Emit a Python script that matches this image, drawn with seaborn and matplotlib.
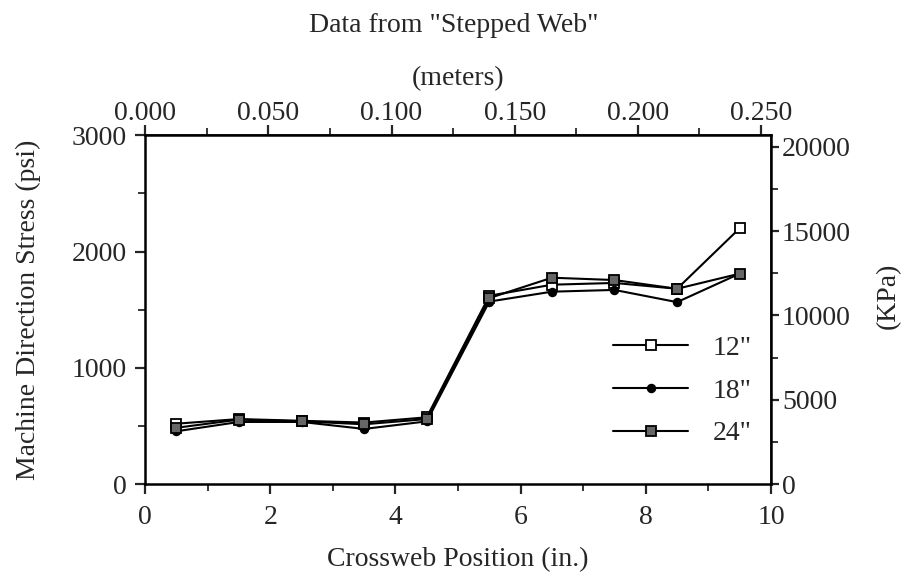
import numpy as np
import pandas as pd
import matplotlib
matplotlib.use("Agg")
import matplotlib.pyplot as plt
import seaborn as sns
from matplotlib.ticker import MultipleLocator

# ---- data ----
positions = [0.5, 1.5, 2.5, 3.5, 4.5, 5.5, 6.5, 7.5, 8.5, 9.5]
stress_12 = [520, 560, 545, 530, 575, 1620, 1715, 1730, 1680, 2200]
stress_18 = [455, 535, 535, 475, 540, 1570, 1655, 1670, 1565, 1810]
stress_24 = [485, 555, 540, 515, 560, 1600, 1775, 1755, 1680, 1810]
series_labels = ['12"', '18"', '24"']
top_ticks = [0.000, 0.050, 0.100, 0.150, 0.200, 0.250]
right_ticks = [0, 5000, 10000, 15000, 20000]

PSI_TO_KPA = 6.894757
IN_TO_M = 0.0254

sns.set_theme(style="ticks")
plt.rcParams['font.family'] = ['Liberation Serif', 'DejaVu Serif']

df = pd.DataFrame({
    "pos": positions * 3,
    "stress": stress_12 + stress_18 + stress_24,
    "size": sum([[s] * len(positions) for s in series_labels], []),
})

fig = plt.figure(figsize=(9.07, 5.73), dpi=100)
ax = fig.add_axes([0.160, 0.155, 0.690, 0.609])

styles = {
    '12"': dict(marker='s', markerfacecolor='white', markeredgecolor='black', markersize=7),
    '18"': dict(marker='o', markerfacecolor='black', markeredgecolor='black', markersize=5.5),
    '24"': dict(marker='s', markerfacecolor='0.4', markeredgecolor='black', markersize=7),
}
for lab in series_labels:
    sub = df[df["size"] == lab]
    sns.lineplot(data=sub, x="pos", y="stress", ax=ax, color='black', linewidth=1.5,
                 label=lab, markeredgewidth=1.3, **styles[lab])

ax.set_xlim(0, 10)
ax.set_ylim(0, 3000)
ax.xaxis.set_major_locator(MultipleLocator(2))
ax.xaxis.set_minor_locator(MultipleLocator(1))
ax.yaxis.set_major_locator(MultipleLocator(1000))
ax.yaxis.set_minor_locator(MultipleLocator(500))
ax.tick_params(which='major', length=7, width=1.6, labelsize=20, direction='out')
ax.tick_params(which='minor', length=5, width=1.3, direction='out')
ax.tick_params(axis='x', which='major', pad=8)
ax.tick_params(axis='y', which='major', pad=6)
for s in ax.spines.values():
    s.set_linewidth(1.8)
    s.set_color('black')
ax.set_xlabel("Crossweb Position (in.)", fontsize=20, labelpad=12)
ax.set_ylabel("Machine Direction Stress (psi)", fontsize=20, labelpad=22)

# top axis in meters
axt = ax.secondary_xaxis('top', functions=(lambda x: x * IN_TO_M, lambda m: m / IN_TO_M))
axt.set_xticks(top_ticks)
axt.set_xticklabels([f"{t:.3f}" for t in top_ticks])
axt.xaxis.set_minor_locator(MultipleLocator(0.025))
axt.tick_params(which='major', length=7, width=1.6, labelsize=20, direction='out', pad=0)
axt.tick_params(which='minor', length=5, width=1.3, direction='out')
axt.set_xlabel("(meters)", fontsize=20, labelpad=11)

# right axis in KPa
axr = ax.secondary_yaxis('right', functions=(lambda p: p * PSI_TO_KPA, lambda k: k / PSI_TO_KPA))
axr.set_yticks(right_ticks)
axr.yaxis.set_minor_locator(MultipleLocator(2500))
axr.tick_params(which='major', length=6, width=1.6, labelsize=20, direction='out', pad=2)
axr.tick_params(which='minor', length=5, width=1.3, direction='out')
axr.set_ylabel("(KPa)", fontsize=20, labelpad=18, y=0.54)

leg = ax.legend(loc='center left', bbox_to_anchor=(613 / 907, 1 - 391 / 573),
                bbox_transform=fig.transFigure, frameon=False, borderpad=0, borderaxespad=0,
                fontsize=20, handlelength=2.7, handletextpad=0.9, labelspacing=0.62,
                numpoints=1)

fig.text(0.5, 1 - 25 / 573, 'Data from "Stepped Web"', ha='center', va='center', fontsize=20)

fig.savefig("out.png", dpi=100, facecolor='white')
